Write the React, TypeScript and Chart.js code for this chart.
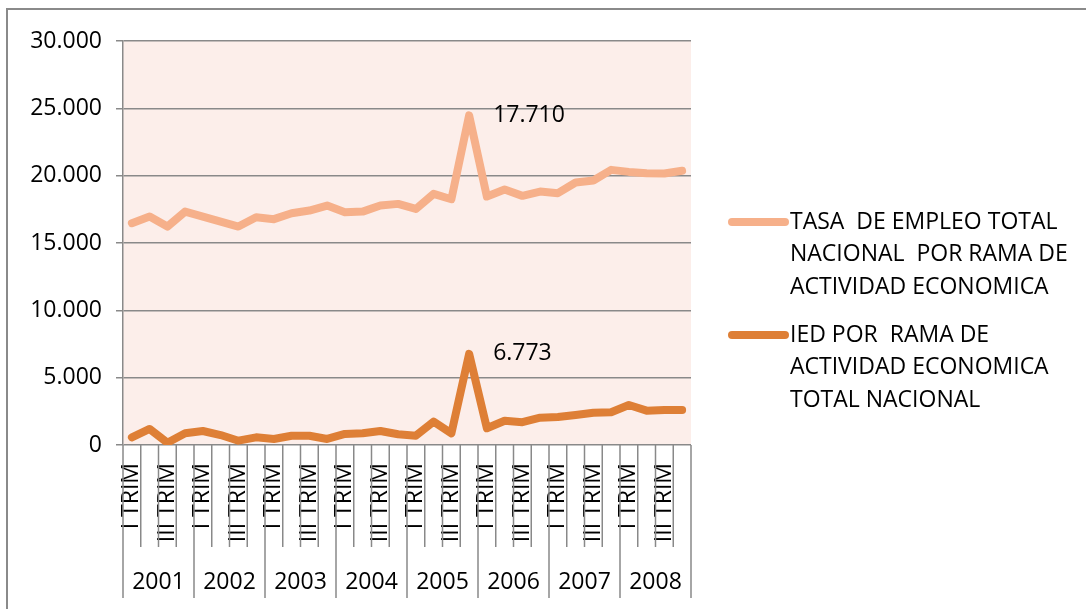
import React, { useEffect, useRef } from "react";
import { Chart, registerables } from "chart.js";

Chart.register(...registerables);

const years = ["2001", "2002", "2003", "2004", "2005", "2006", "2007", "2008"];
const quarters = ["I TRIM", "II TRIM", "III TRIM", "IV TRIM"];
const categories: string[] = years.flatMap(() => quarters);

const iedValues = [
  572, 1190, 170, 870, 1040, 740, 320, 570,
  450, 690, 690, 450, 820, 870, 1040, 795,
  690, 1730, 870, 6773, 1240, 1800, 1690, 2030,
  2080, 2230, 2400, 2430, 2970, 2550, 2600, 2600,
];
const tasaValues = [
  15900, 15770, 16050, 16460, 15920, 15850, 15900, 16340,
  16320, 16520, 16720, 17330, 16470, 16460, 16740, 17110,
  16840, 16920, 17380, 17710, 17210, 17170, 16810, 16790,
  16620, 17260, 17240, 18000, 17310, 17630, 17560, 17760,
];
const labelledIndex = 19;

const tasaLabel = "TASA  DE EMPLEO TOTAL NACIONAL  POR RAMA DE ACTIVIDAD ECONOMICA";
const iedLabel = "IED POR  RAMA DE ACTIVIDAD ECONOMICA TOTAL NACIONAL";
const tasaLegendLines = ["TASA  DE EMPLEO TOTAL", "NACIONAL  POR RAMA DE", "ACTIVIDAD ECONOMICA"];
const iedLegendLines = ["IED POR  RAMA DE", "ACTIVIDAD ECONOMICA", "TOTAL NACIONAL"];

const yTicks = [0, 5000, 10000, 15000, 20000, 25000, 30000];

const TASA_COLOR = "#F6B08A";
const IED_COLOR = "#DE7F36";
const BG = "#FCEEEA";
const GRID = "#898989";
const FONT = "'Open Sans', sans-serif";
const FONT_SIZE = 23;

function fmt(v: number): string {
  const s = Math.round(v).toString();
  return s.replace(/\B(?=(\d{3})+(?!\d))/g, ".");
}

const decorPlugin = {
  id: "decor",
  beforeDraw(chart: any) {
    const { ctx, chartArea } = chart;
    ctx.save();
    ctx.fillStyle = "#ffffff";
    ctx.fillRect(0, 0, chart.width, chart.height);
    ctx.fillStyle = BG;
    ctx.fillRect(chartArea.left, chartArea.top, chartArea.right - chartArea.left, chartArea.bottom - chartArea.top);
    ctx.strokeStyle = "#8a8a8a";
    ctx.lineWidth = 2;
    ctx.beginPath();
    ctx.moveTo(7, chart.height);
    ctx.lineTo(7, 9);
    ctx.lineTo(chart.width, 9);
    ctx.stroke();
    ctx.restore();
  },
  afterDraw(chart: any) {
    const { ctx, chartArea, scales } = chart;
    const x = scales.x;
    const n = categories.length;
    const step = x.getPixelForValue(1) - x.getPixelForValue(0);
    ctx.save();
    ctx.strokeStyle = GRID;
    ctx.lineWidth = 1.5;
    for (let i = 0; i <= n; i++) {
      const px = x.getPixelForValue(i) - step / 2;
      const isYear = i % quarters.length === 0;
      ctx.beginPath();
      ctx.moveTo(px, chartArea.bottom);
      ctx.lineTo(px, isYear ? chartArea.bottom + 153 : chartArea.bottom + 102);
      ctx.stroke();
    }
    ctx.fillStyle = "#000";
    ctx.font = `${FONT_SIZE}px ${FONT}`;
    ctx.textAlign = "center";
    ctx.textBaseline = "middle";
    years.forEach((yr, k) => {
      const a = x.getPixelForValue(k * 4) - step / 2;
      const b = x.getPixelForValue(k * 4 + 3) + step / 2;
      ctx.fillText(yr, (a + b) / 2, chartArea.bottom + 137);
    });
    ctx.textAlign = "left";
    chart.data.datasets.forEach((ds: any, di: number) => {
      const meta = chart.getDatasetMeta(di);
      const pt = meta.data[labelledIndex];
      if (pt) ctx.fillText(fmt(ds.data[labelledIndex]), pt.x + 24, pt.y);
    });
    const legend = [
      { color: TASA_COLOR, lines: tasaLegendLines, y: 222 },
      { color: IED_COLOR, lines: iedLegendLines, y: 335 },
    ];
    legend.forEach((it) => {
      ctx.strokeStyle = it.color;
      ctx.lineWidth = 8;
      ctx.lineCap = "round";
      ctx.beginPath();
      ctx.moveTo(732, it.y);
      ctx.lineTo(785, it.y);
      ctx.stroke();
      it.lines.forEach((ln, j) => ctx.fillText(ln, 790, it.y + j * 32.5));
    });
    ctx.restore();
  },
};

export default function App() {
  const ref = useRef<HTMLCanvasElement | null>(null);
  useEffect(() => {
    if (!ref.current) return;
    const chart = new Chart(ref.current, {
      type: "line",
      data: {
        labels: categories,
        datasets: [
          {
            label: iedLabel,
            data: iedValues,
            borderColor: IED_COLOR,
            backgroundColor: IED_COLOR,
            borderWidth: 8,
            pointRadius: 0,
            tension: 0,
            fill: false,
            borderJoinStyle: "round",
            borderCapStyle: "round",
          },
          {
            label: tasaLabel,
            data: tasaValues,
            borderColor: TASA_COLOR,
            backgroundColor: TASA_COLOR,
            borderWidth: 8,
            pointRadius: 0,
            tension: 0,
            fill: false,
            borderJoinStyle: "round",
            borderCapStyle: "round",
          },
        ],
      },
      options: {
        responsive: false,
        animation: false,
        layout: { padding: { left: 0, top: 41, right: 395, bottom: 0 } },
        plugins: { legend: { display: false }, tooltip: { enabled: false } },
        scales: {
          x: {
            offset: true,
            grid: { display: false, drawTicks: false },
            border: { display: false },
            ticks: {
              autoSkip: false,
              maxRotation: 90,
              minRotation: 90,
              padding: 18,
              color: "#000",
              font: { family: FONT, size: FONT_SIZE },
              callback: (_v: any, i: number) => (i % 2 === 0 ? categories[i] : ""),
            },
            afterFit: (s: any) => { s.height = 164; },
          },
          y: {
            stacked: true,
            min: 0,
            max: 30000,
            afterBuildTicks: (s: any) => { s.ticks = yTicks.map((v) => ({ value: v })); },
            grid: { color: GRID, lineWidth: 1.5, tickLength: 7 },
            border: { display: true, color: GRID, width: 1.5 },
            ticks: {
              padding: 14,
              color: "#000",
              font: { family: FONT, size: FONT_SIZE },
              callback: (v: any) => fmt(Number(v)),
            },
            afterFit: (s: any) => { s.width = 123; },
          },
        },
      },
      plugins: [decorPlugin],
    });
    return () => chart.destroy();
  }, []);
  return (
    <div style={{ position: "absolute", left: 0, top: 0, width: 1086, height: 609 }}>
      <canvas ref={ref} width={1086} height={609} style={{ display: "block" }} />
    </div>
  );
}
